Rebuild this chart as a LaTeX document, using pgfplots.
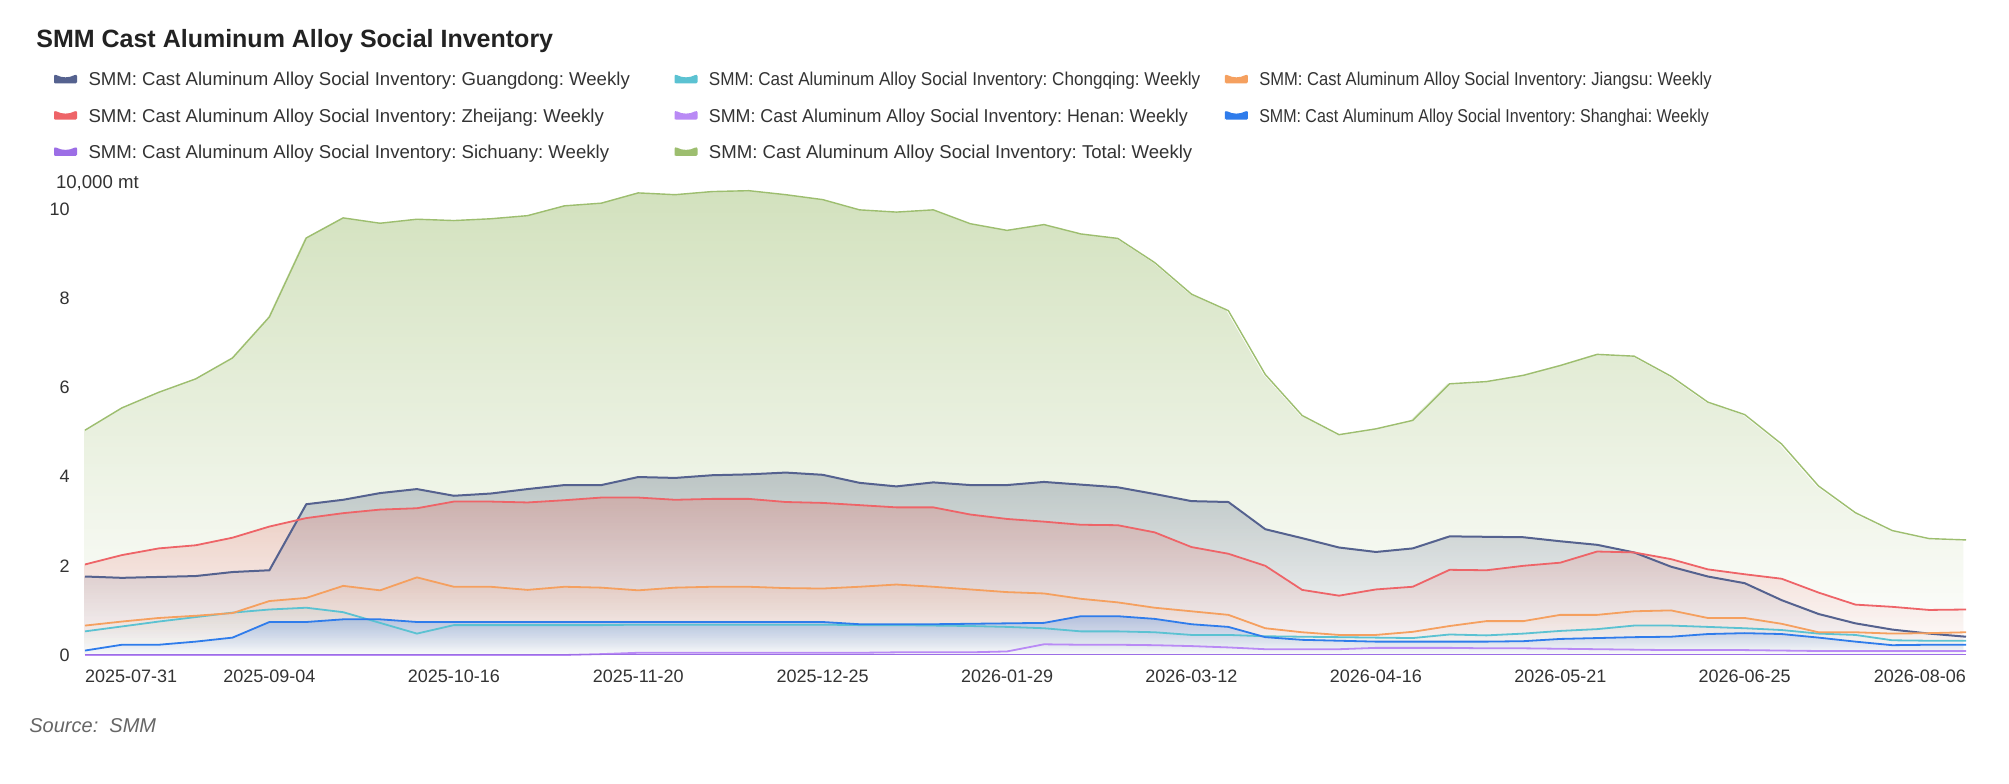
\documentclass[border=0pt]{standalone}
\usepackage{fontspec}
\setmainfont{Liberation Sans}
\usepackage{pgfplots}
\pgfplotsset{compat=1.18}
\usepackage{pgfplotstable}
\usetikzlibrary{fadings}
\frenchspacing
\definecolor{cGD}{HTML}{55628F}
\definecolor{cCQ}{HTML}{5BC2D2}
\definecolor{cJS}{HTML}{F5A05F}
\definecolor{cZJ}{HTML}{EE6468}
\definecolor{cHN}{HTML}{B98AF5}
\definecolor{cSH}{HTML}{2F7CEB}
\definecolor{cSC}{HTML}{9C6EE6}
\definecolor{cTT}{HTML}{9DBE6F}
\definecolor{txt}{HTML}{333333}
\definecolor{ttl}{HTML}{222222}
\definecolor{src}{HTML}{666666}
\tikzfading[name=fadedown, top color=transparent!0, bottom color=transparent!100]
\pgfplotstableread{
i GD CQ JS ZJ HN SH SC TT
0 1.76 0.53 0.66 2.03 0.00 0.10 0.01 5.04
1 1.73 0.64 0.75 2.24 0.00 0.23 0.01 5.54
2 1.75 0.75 0.83 2.39 0.00 0.23 0.01 5.89
3 1.77 0.85 0.88 2.46 0.00 0.30 0.01 6.19
4 1.86 0.95 0.94 2.63 0.00 0.39 0.01 6.66
5 1.90 1.02 1.21 2.88 0.00 0.74 0.01 7.58
6 3.38 1.06 1.28 3.07 0.00 0.74 0.01 9.35
7 3.48 0.96 1.55 3.18 0.00 0.80 0.01 9.80
8 3.63 0.72 1.45 3.26 0.00 0.80 0.01 9.68
9 3.72 0.48 1.74 3.29 0.00 0.74 0.01 9.77
10 3.57 0.67 1.53 3.44 0.00 0.74 0.01 9.74
11 3.62 0.67 1.53 3.44 0.00 0.74 0.01 9.78
12 3.72 0.67 1.46 3.42 0.00 0.74 0.01 9.85
13 3.81 0.67 1.53 3.47 0.00 0.74 0.01 10.07
14 3.81 0.67 1.51 3.53 0.02 0.74 0.01 10.13
15 3.99 0.68 1.45 3.53 0.05 0.74 0.01 10.36
16 3.97 0.68 1.51 3.48 0.05 0.74 0.01 10.32
17 4.03 0.68 1.53 3.50 0.05 0.74 0.01 10.39
18 4.05 0.68 1.53 3.50 0.05 0.74 0.01 10.41
19 4.09 0.68 1.50 3.43 0.05 0.74 0.01 10.32
20 4.04 0.68 1.49 3.41 0.05 0.74 0.01 10.21
21 3.86 0.67 1.53 3.36 0.05 0.69 0.01 9.98
22 3.78 0.67 1.58 3.31 0.06 0.69 0.01 9.93
23 3.87 0.66 1.53 3.31 0.06 0.69 0.01 9.98
24 3.81 0.65 1.47 3.15 0.06 0.70 0.01 9.67
25 3.81 0.63 1.41 3.05 0.08 0.71 0.01 9.52
26 3.88 0.60 1.38 2.99 0.24 0.72 0.01 9.65
27 3.82 0.53 1.26 2.92 0.23 0.87 0.01 9.44
28 3.76 0.53 1.18 2.91 0.23 0.87 0.01 9.34
29 3.61 0.51 1.06 2.75 0.22 0.81 0.01 8.80
30 3.45 0.45 0.98 2.42 0.20 0.69 0.01 8.09
31 3.43 0.45 0.90 2.27 0.17 0.63 0.01 7.72
32 2.82 0.42 0.60 2.00 0.13 0.40 0.01 6.29
33 2.62 0.41 0.51 1.46 0.13 0.34 0.01 5.37
34 2.41 0.40 0.45 1.33 0.13 0.32 0.01 4.94
35 2.31 0.39 0.45 1.47 0.16 0.30 0.01 5.07
36 2.39 0.38 0.52 1.53 0.16 0.30 0.01 5.26
37 2.66 0.46 0.65 1.91 0.16 0.30 0.01 6.08
38 2.65 0.44 0.76 1.90 0.15 0.30 0.01 6.13
39 2.64 0.48 0.76 2.00 0.15 0.31 0.01 6.27
40 2.55 0.54 0.90 2.07 0.14 0.36 0.01 6.49
41 2.47 0.58 0.90 2.32 0.13 0.38 0.01 6.74
42 2.30 0.66 0.98 2.30 0.12 0.40 0.01 6.70
43 1.98 0.66 1.00 2.15 0.11 0.41 0.01 6.25
44 1.76 0.63 0.83 1.92 0.11 0.47 0.01 5.67
45 1.61 0.60 0.83 1.81 0.11 0.49 0.01 5.39
46 1.23 0.56 0.70 1.71 0.10 0.47 0.01 4.73
47 0.92 0.48 0.51 1.40 0.09 0.39 0.01 3.79
48 0.71 0.45 0.51 1.13 0.09 0.30 0.01 3.19
49 0.57 0.33 0.48 1.08 0.09 0.22 0.01 2.79
50 0.48 0.32 0.49 1.01 0.09 0.23 0.01 2.61
51 0.41 0.32 0.51 1.02 0.09 0.23 0.01 2.58
}\data
\begin{document}
\begin{tikzpicture}
\path[use as bounding box, fill=white] (0,0) rectangle (1004.5pt,391.5pt);
\node[anchor=base west, inner sep=0pt, font=\bfseries\fontsize{12.5}{15}\selectfont, text=ttl] at (18pt,367.5pt) {SMM Cast Aluminum Alloy Social Inventory};
\node[anchor=base west, inner sep=0pt, font=\fontsize{9.3}{11}\selectfont, text=txt] at (27.8pt,297pt) {10,000 mt};
\node[anchor=base west, inner sep=0pt, font=\itshape\fontsize{10}{12}\selectfont, text=src] at (14.5pt,25.5pt) {Source:~ SMM};
\begin{axis}[
  at={(42.5pt,64pt)}, anchor=south west,
  scale only axis, width=940.5pt, height=236.4pt,
  xmin=0, xmax=51, ymin=0, ymax=10.6,
  clip=false,
  axis line style={draw=none},
  major tick length=0pt,
  /pgf/number format/assume math mode=true,
  xtick={0,5,10,15,20,25,30,35,40,45,51},
  xticklabels={{\rlap{2025-07-31}},2025-09-04,2025-10-16,2025-11-20,2025-12-25,2026-01-29,2026-03-12,2026-04-16,2026-05-21,2026-06-25,{\llap{2026-08-06}}},
  ytick={0,2,4,6,8,10},
  xticklabel style={font=\fontsize{9}{10}\selectfont, text=txt, anchor=north, inner sep=0pt, yshift=-7.5pt},
  yticklabel style={font=\fontsize{9}{10}\selectfont, text=txt, anchor=east, inner sep=0pt, xshift=-7.5pt},
  legend columns=3,
  legend cell align=left,
  legend style={at={(rel axis cs:-0.01648,1.2332)}, anchor=north west, draw=none, fill=none,
    inner sep=0pt, outer sep=0pt, font=\fontsize{9.3}{11}\selectfont, text=txt,
    row sep=10.8pt, column sep=0pt,
    nodes={inner sep=0pt, text height=7pt, text depth=0.34pt}},
  legend image code/.code={
    \fill[#1, draw=none] (0pt,-2pt) -- (0pt,1.6pt) .. controls (0pt,2.3pt) and (0.6pt,2.3pt) .. (1.2pt,2.1pt)
      .. controls (4pt,0.6pt) and (7.5pt,0.6pt) .. (10.3pt,2.1pt) .. controls (10.9pt,2.3pt) and (11.5pt,2.3pt) .. (11.5pt,1.6pt)
      -- (11.5pt,-1.4pt) .. controls (11.5pt,-2pt) .. (10.9pt,-2pt) -- (0.6pt,-2pt) .. controls (0pt,-2pt) .. (0pt,-1.4pt) -- cycle;
    \path (16.75pt,0pt);
  },
]
% fills
\addplot[draw=none, fill=cGD, fill opacity=0.35, path fading=fadedown, forget plot] table[x=i,y=GD]{\data} \closedcycle;
\addplot[draw=none, fill=cCQ, fill opacity=0.10, path fading=fadedown, forget plot] table[x=i,y=CQ]{\data} \closedcycle;
\addplot[draw=none, fill=cJS, fill opacity=0.15, path fading=fadedown, forget plot] table[x=i,y=JS]{\data} \closedcycle;
\addplot[draw=none, fill=cZJ, fill opacity=0.30, path fading=fadedown, forget plot] table[x=i,y=ZJ]{\data} \closedcycle;
\addplot[draw=none, fill=cSH, fill opacity=0.30, path fading=fadedown, forget plot] table[x=i,y=SH]{\data} \closedcycle;
\addplot[draw=none, fill=cTT, fill opacity=0.45, path fading=fadedown, forget plot] table[x=i,y=TT]{\data} \closedcycle;
% lines
\addplot[color=cGD, line width=1pt, mark=none] table[x=i,y=GD]{\data};
\addlegendentry{\makebox[293pt][l]{SMM: Cast Aluminum Alloy Social Inventory: Guangdong: Weekly}}
\addplot[color=cCQ, line width=0.9pt, mark=none] table[x=i,y=CQ]{\data};
\addlegendentry{\makebox[258pt][l]{\scalebox{0.92}[1]{SMM: Cast Aluminum Alloy Social Inventory: Chongqing: Weekly}}}
\addplot[color=cJS, line width=0.9pt, mark=none] table[x=i,y=JS]{\data};
\addlegendentry{\scalebox{0.89}[1]{SMM: Cast Aluminum Alloy Social Inventory: Jiangsu: Weekly}}
\addplot[color=cZJ, line width=0.9pt, mark=none] table[x=i,y=ZJ]{\data};
\addlegendentry{\makebox[293pt][l]{SMM: Cast Aluminum Alloy Social Inventory: Zheijang: Weekly}}
\addplot[color=cHN, line width=0.9pt, mark=none] table[x=i,y=HN]{\data};
\addlegendentry{\makebox[258pt][l]{\scalebox{0.96}[1]{SMM: Cast Aluminum Alloy Social Inventory: Henan: Weekly}}}
\addplot[color=cSH, line width=0.9pt, mark=none] table[x=i,y=SH]{\data};
\addlegendentry{\scalebox{0.86}[1]{SMM: Cast Aluminum Alloy Social Inventory: Shanghai: Weekly}}
\addplot[color=cSC, line width=0.9pt, mark=none] table[x=i,y=SC]{\data};
\addlegendentry{\makebox[293pt][l]{SMM: Cast Aluminum Alloy Social Inventory: Sichuany: Weekly}}
\addplot[color=cTT, line width=0.7pt, mark=none] table[x=i,y=TT]{\data};
\addlegendentry{\makebox[258pt][l]{SMM: Cast Aluminum Alloy Social Inventory: Total: Weekly}}
\end{axis}
\end{tikzpicture}
\end{document}
